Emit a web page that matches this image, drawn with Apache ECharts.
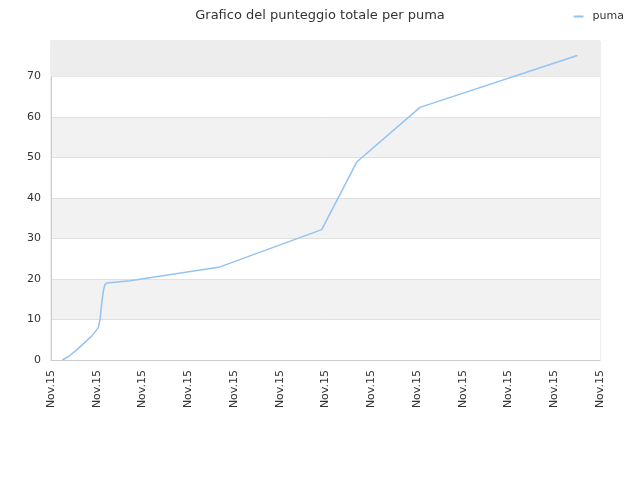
<!DOCTYPE html>
<html><head><meta charset="utf-8">
<script src="https://cdn.jsdelivr.net/npm/echarts@6/dist/echarts.min.js"></script>
<style>html,body{margin:0;padding:0;background:#fff}#c{width:640px;height:480px}</style>
</head><body><div id="c"></div>
<script>
const seriesName = 'puma';
const xTickLabels = ['Nov.15','Nov.15','Nov.15','Nov.15','Nov.15','Nov.15','Nov.15','Nov.15','Nov.15','Nov.15','Nov.15','Nov.15','Nov.15'];
const xPositions = [0.247, 0.378, 0.562, 0.890, 1.034, 1.071, 1.108, 1.148, 1.18, 1.224, 1.727, 3.694, 5.917, 6.682, 8.066, 11.504];
const scores =     [0,     0.8,   2.5,   5.9,   8.0,   9.9,   14,    17.3,  18.7,  19.05, 19.6,  23.0,  32.2,  48.9,  62.4,  75.2];

const chart = echarts.init(document.getElementById('c'));
chart.setOption({
  animation: false,
  textStyle: { fontFamily: 'DejaVu Sans' },
  title: { text: 'Grafico del punteggio totale per puma', left: 'center', top: 4,
    textStyle: { fontSize: 13, fontWeight: 'normal', color: '#333', fontFamily: 'DejaVu Sans' } },
  legend: { right: 11, top: 6, itemWidth: 10, itemHeight: 2, itemGap: 5,
    textStyle: { fontSize: 11, color: '#333', padding: [0, 0, 0, 4] }, data: [seriesName] },
  grid: { left: 51, right: 40, top: 41, bottom: 120, show: true, borderColor: '#ddd', borderWidth: 1 },
  xAxis: { type: 'value', min: 0, max: 12, interval: 1,
    axisLine: { show: true, lineStyle: { color: '#ccc' } },
    axisTick: { show: false },
    splitLine: { show: false },
    axisLabel: { rotate: 90, fontSize: 11, color: '#333', margin: 10,
      formatter: (v) => xTickLabels[Math.round(v)] || '' } },
  yAxis: { type: 'value', min: 0, max: 78.8, interval: 10,
    axisLine: { show: true, lineStyle: { color: '#ccc' } },
    axisTick: { show: false },
    splitLine: { show: true, lineStyle: { color: '#e0e0e0' } },
    splitArea: { show: true, areaStyle: { color: ['#ffffff', '#f2f2f2'] } },
    axisLabel: { fontSize: 11, color: '#333', margin: 10,
      formatter: (v) => (v % 10 === 0 ? String(v) : '') } },
  series: [{
    name: seriesName, type: 'line', showSymbol: false, symbol: 'none',
    lineStyle: { color: '#92c3f3', width: 1.5 }, itemStyle: { color: '#92c3f3' },
    data: xPositions.map((x, i) => [x, scores[i]]),
    markArea: { silent: true, itemStyle: { color: '#ededed' },
      data: [[{ yAxis: 70 }, { yAxis: 78.8 }]] }
  }]
});
</script></body></html>
